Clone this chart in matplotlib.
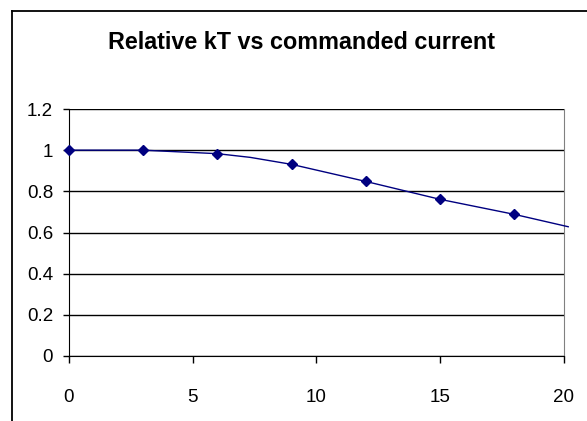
import matplotlib.pyplot as plt
from matplotlib.lines import Line2D

# line series (has an extra bend point between 6 and 9, runs a little past 20)
line_x = [0, 3, 6, 7.33, 9, 12, 15, 18, 20.17]
line_y = [1.0, 1.0, 0.983, 0.965, 0.931, 0.848, 0.761, 0.688, 0.628]
# marker series
mark_x = [0, 3, 6, 9, 12, 15, 18]
mark_y = [1.0, 1.0, 0.983, 0.931, 0.848, 0.761, 0.688]

xticks = [0, 5, 10, 15, 20]
yticks = [0, 0.2, 0.4, 0.6, 0.8, 1.0, 1.2]
ylabels = ['0', '0.2', '0.4', '0.6', '0.8', '1', '1.2']

plt.rcParams['font.family'] = ['Liberation Sans', 'DejaVu Sans']

fig = plt.figure(figsize=(5.87, 4.21), dpi=100)
ax = fig.add_axes([68.7/587, 1-356/421, (564-68.7)/587, (356-109)/421])

navy = '#000080'
ax.plot(line_x, line_y, color=navy, lw=1.0, clip_on=False, zorder=3)
ax.plot(mark_x, mark_y, linestyle='none', marker='D', ms=5.5, color=navy,
        clip_on=False, zorder=4)

ax.set_xlim(0, 20)
ax.set_ylim(0, 1.2)
ax.set_xticks(xticks)
ax.set_yticks(yticks)
ax.set_yticklabels(ylabels)
ax.yaxis.grid(True, color='black', lw=1.0)
ax.set_axisbelow(True)

ax.spines['top'].set_visible(False)
ax.spines['right'].set_color('#808080')
ax.spines['left'].set_color('black')
ax.spines['bottom'].set_color('black')
ax.tick_params(axis='x', direction='out', length=5, width=1, pad=19,
               labelsize=13.5, colors='black')
ax.tick_params(axis='y', direction='out', length=4.3, width=1, pad=7,
               labelsize=13.5, colors='black')

fig.text(301/587, 1-49/421, 'Relative kT vs commanded current',
         ha='center', va='baseline', fontsize=16.8, fontweight='bold')

# outer chart frame (cut off at right and bottom)
fig.add_artist(Line2D([12/587, 12/587], [0, 1-11/421], color='black', lw=1.3,
                      transform=fig.transFigure))
fig.add_artist(Line2D([12/587, 1], [1-11/421, 1-11/421], color='black', lw=1.3,
                      transform=fig.transFigure))

fig.savefig('out.png', dpi=100)
